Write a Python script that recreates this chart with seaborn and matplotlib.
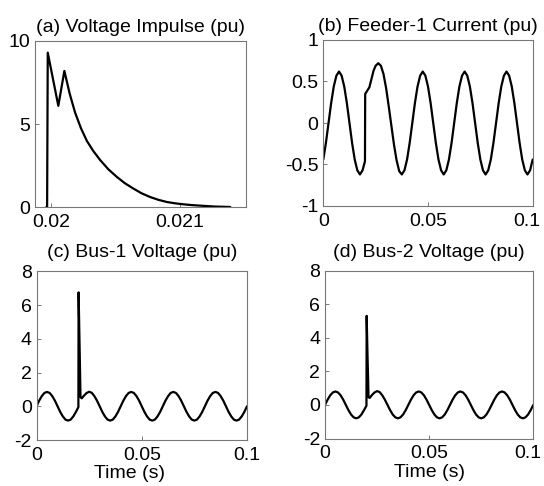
import matplotlib
matplotlib.use("Agg")
import matplotlib.pyplot as plt
import matplotlib.transforms as mtransforms
import seaborn as sns

# ---------------- data ----------------
# (a) Voltage impulse (pu)
t_a = [0.019960, 0.019968, 0.019973, 0.020055, 0.020102, 0.020143, 0.020185,
       0.020230, 0.020276, 0.020327, 0.020379, 0.020444, 0.020509, 0.020573,
       0.020637, 0.020702, 0.020767, 0.020832, 0.020897, 0.020961, 0.021026,
       0.021090, 0.021155, 0.021270, 0.021390]
v_a = [0.0, 0.0, 9.3, 6.1, 8.2, 6.84, 5.7,
       4.77, 4.0, 3.38, 2.85, 2.28, 1.83, 1.44,
       1.13, 0.84, 0.62, 0.45, 0.32, 0.24, 0.18,
       0.134, 0.10, 0.045, 0.02]

# (b) Feeder-1 current (pu)
t_b = [0.0, 0.00125, 0.0025, 0.00375, 0.005, 0.00625, 0.0075, 0.00875,
       0.01, 0.01125, 0.0125, 0.01375, 0.015, 0.01625, 0.0175, 0.01875,
       0.0199, 0.0200, 0.0210, 0.0220, 0.0230, 0.0240, 0.0250, 0.02625,
       0.0275, 0.02875, 0.03, 0.03125, 0.0325, 0.03375, 0.035, 0.03625,
       0.0375, 0.03875, 0.04, 0.04125, 0.0425, 0.04375, 0.045, 0.04625,
       0.0475, 0.04875, 0.05, 0.05125, 0.0525, 0.05375, 0.055, 0.05625,
       0.0575, 0.05875, 0.06, 0.06125, 0.0625, 0.06375, 0.065, 0.06625,
       0.0675, 0.06875, 0.07, 0.07125, 0.0725, 0.07375, 0.075, 0.07625,
       0.0775, 0.07875, 0.08, 0.08125, 0.0825, 0.08375, 0.085, 0.08625,
       0.0875, 0.08875, 0.09, 0.09125, 0.0925, 0.09375, 0.095, 0.09625,
       0.0975, 0.09875, 0.1]
i_b = [-0.44, -0.24, 0.00, 0.24, 0.44, 0.57, 0.62, 0.57,
       0.44, 0.24, 0.00, -0.24, -0.44, -0.57, -0.62, -0.57,
       -0.46, 0.35, 0.39, 0.43, 0.53, 0.63, 0.69, 0.72,
       0.69, 0.59, 0.42, 0.20, -0.03, -0.26, -0.45, -0.58,
       -0.62, -0.57, -0.44, -0.24, 0.00, 0.24, 0.44, 0.57,
       0.62, 0.57, 0.44, 0.24, 0.00, -0.24, -0.44, -0.57,
       -0.62, -0.57, -0.44, -0.24, 0.00, 0.24, 0.44, 0.57,
       0.62, 0.57, 0.44, 0.24, 0.00, -0.24, -0.44, -0.57,
       -0.62, -0.57, -0.44, -0.24, 0.00, 0.24, 0.44, 0.57,
       0.62, 0.57, 0.44, 0.24, 0.00, -0.24, -0.44, -0.57,
       -0.62, -0.57, -0.44]

# (c) Bus-1 voltage (pu)
t_c = [0.0, 0.00125, 0.0025, 0.00375, 0.005, 0.00625, 0.0075, 0.00875,
       0.01, 0.01125, 0.0125, 0.01375, 0.015, 0.01625, 0.0175, 0.01875,
       0.0199, 0.0200, 0.0204, 0.0207, 0.0209, 0.0215, 0.0225, 0.02375,
       0.025, 0.02625, 0.0275, 0.02875, 0.03, 0.03125, 0.0325, 0.03375,
       0.035, 0.03625, 0.0375, 0.03875, 0.04, 0.04125, 0.0425, 0.04375,
       0.045, 0.04625, 0.0475, 0.04875, 0.05, 0.05125, 0.0525, 0.05375,
       0.055, 0.05625, 0.0575, 0.05875, 0.06, 0.06125, 0.0625, 0.06375,
       0.065, 0.06625, 0.0675, 0.06875, 0.07, 0.07125, 0.0725, 0.07375,
       0.075, 0.07625, 0.0775, 0.07875, 0.08, 0.08125, 0.0825, 0.08375,
       0.085, 0.08625, 0.0875, 0.08875, 0.09, 0.09125, 0.0925, 0.09375,
       0.095, 0.09625, 0.0975, 0.09875, 0.1]
v_c = [0.00, 0.33, 0.60, 0.79, 0.85, 0.79, 0.60, 0.33,
       0.00, -0.33, -0.60, -0.79, -0.85, -0.79, -0.60, -0.33,
       -0.05, 6.75, 4.0, 2.0, 0.55, 0.47, 0.62, 0.78,
       0.86, 0.80, 0.60, 0.33, 0.00, -0.33, -0.60, -0.79,
       -0.85, -0.79, -0.60, -0.33, 0.00, 0.33, 0.60, 0.79,
       0.85, 0.79, 0.60, 0.33, 0.00, -0.33, -0.60, -0.79,
       -0.85, -0.79, -0.60, -0.33, 0.00, 0.33, 0.60, 0.79,
       0.85, 0.79, 0.60, 0.33, 0.00, -0.33, -0.60, -0.79,
       -0.85, -0.79, -0.60, -0.33, 0.00, 0.33, 0.60, 0.79,
       0.85, 0.79, 0.60, 0.33, 0.00, -0.33, -0.60, -0.79,
       -0.85, -0.79, -0.60, -0.33, 0.00]

# (d) Bus-2 voltage (pu)
t_d = t_c
v_d = [0.00, 0.31, 0.57, 0.74, 0.80, 0.74, 0.57, 0.31,
       0.00, -0.31, -0.57, -0.74, -0.80, -0.74, -0.57, -0.31,
       -0.05, 5.3, 3.0, 1.5, 0.45, 0.42, 0.58, 0.74,
       0.82, 0.76, 0.57, 0.31, 0.00, -0.31, -0.57, -0.74,
       -0.80, -0.74, -0.57, -0.31, 0.00, 0.31, 0.57, 0.74,
       0.80, 0.74, 0.57, 0.31, 0.00, -0.31, -0.57, -0.74,
       -0.80, -0.74, -0.57, -0.31, 0.00, 0.31, 0.57, 0.74,
       0.80, 0.74, 0.57, 0.31, 0.00, -0.31, -0.57, -0.74,
       -0.80, -0.74, -0.57, -0.31, 0.00, 0.31, 0.57, 0.74,
       0.80, 0.74, 0.57, 0.31, 0.00, -0.31, -0.57, -0.74,
       -0.80, -0.74, -0.57, -0.31, 0.00]

titles = ["(a) Voltage Impulse (pu)", "(b) Feeder-1 Current (pu)",
          "(c) Bus-1 Voltage (pu)", "(d) Bus-2 Voltage (pu)"]
xticks_a = [0.02, 0.021]
xticklabels_a = ["0.02", "0.021"]
xticks_t = [0.0, 0.05, 0.1]
xticklabels_t = ["0", "0.05", "0.1"]
yticks_a = [0, 5, 10]
yticklabels_a = ["0", "5", "10"]
yticks_b = [-1, -0.5, 0, 0.5, 1]
yticklabels_b = ["-1", "-0.5", "0", "0.5", "1"]
yticks_v = [-2, 0, 2, 4, 6, 8]
yticklabels_v = ["-2", "0", "2", "4", "6", "8"]
xlabel = "Time (s)"

# ---------------- drawing ----------------
sns.set_theme(style="white")
plt.rcParams["font.family"] = ["Liberation Sans", "DejaVu Sans"]

W, H = 544, 486
fig = plt.figure(figsize=(W / 100, H / 100), dpi=100)


def box(l, r, t, b):
    return [l / W, 1 - b / H, (r - l) / W, (b - t) / H]


ax_a = fig.add_axes(box(35.0, 246.0, 41.0, 207.3))
ax_b = fig.add_axes(box(323.3, 532.7, 40.0, 206.0))
ax_c = fig.add_axes(box(36.5, 247.0, 271.3, 440.0))
ax_d = fig.add_axes(box(325.0, 533.3, 270.5, 438.5))

panels = [
    (ax_a, t_a, v_a, (0.019874, 0.021512), (0, 10), xticks_a, xticklabels_a, yticks_a, yticklabels_a),
    (ax_b, t_b, i_b, (0, 0.1), (-1, 1), xticks_t, xticklabels_t, yticks_b, yticklabels_b),
    (ax_c, t_c, v_c, (0, 0.1), (-2, 8), xticks_t, xticklabels_t, yticks_v, yticklabels_v),
    (ax_d, t_d, v_d, (0, 0.1), (-2, 8), xticks_t, xticklabels_t, yticks_v, yticklabels_v),
]

for k, (ax, tx, vy, xl, yl, xt, xtl, yt, ytl) in enumerate(panels):
    sns.lineplot(x=tx, y=vy, ax=ax, color="black", linewidth=1.6,
                 sort=False, estimator=None)
    ax.set_xlim(*xl)
    ax.set_ylim(*yl)
    ax.set_xticks(xt)
    ax.set_xticklabels(xtl)
    ax.set_yticks(yt)
    ax.set_yticklabels(ytl)
    ax.tick_params(direction="in", length=3, width=0.6, color="#666666",
                   labelsize=14, labelcolor="black", bottom=True, left=True)
    ax.tick_params(axis="x", pad=5)
    ax.tick_params(axis="y", pad=3.5)
    for s in ax.spines.values():
        s.set_visible(True)
        s.set_color("#777777")
        s.set_linewidth(0.8)
    ax.grid(False)
    ax.set_facecolor("white")
    pad = 6.5 if k < 2 else 10
    ax.set_title(titles[k], fontsize=14, pad=pad, color="black")

ax_c.set_xlabel(xlabel, fontsize=14, labelpad=1, x=0.44, color="black")
ax_d.set_xlabel(xlabel, fontsize=14, labelpad=1, color="black")

# nudge the right-most "0.1" labels of the right column slightly inward
for ax in (ax_b, ax_d):
    tick = ax.xaxis.get_major_ticks()[-1]
    shift = mtransforms.ScaledTranslation(-4 / 72, 0, fig.dpi_scale_trans)
    tick.label1.set_transform(tick.label1.get_transform() + shift)

fig.savefig("out.png", dpi=100, facecolor="white")
